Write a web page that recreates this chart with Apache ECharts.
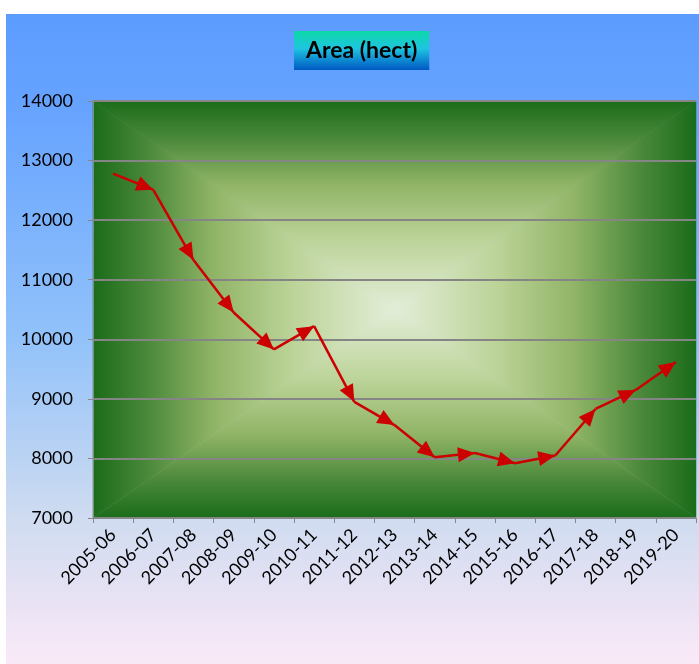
<!DOCTYPE html>
<html>
<head>
<meta charset="utf-8">
<script src="https://cdn.jsdelivr.net/npm/echarts@6/dist/echarts.min.js"></script>
<style>
    body { margin: 0; background: #ffffff; }
    #chart { position: absolute; left: 6px; top: 14px; width: 693px; height: 650px; }
</style>
</head>
<body>
<div id="chart"></div>
<script>
// data
var categories = ['2005-06', '2006-07', '2007-08', '2008-09', '2009-10', '2010-11', '2011-12', '2012-13',
    '2013-14', '2014-15', '2015-16', '2016-17', '2017-18', '2018-19', '2019-20'];
var areaValues = [12780, 12510, 11330, 10450, 9830, 10220, 8950, 8560, 8020, 8090, 7920, 8050, 8830, 9150, 9620];
var yTicks = { min: 7000, max: 14000, step: 1000 };

// layout of the plot area (px inside the chart div)
var W = 693, H = 650;
var gridLeft = 87, gridTop = 87, gridRight = 3, gridBottom = 146;

var chart = echarts.init(document.getElementById('chart'));

// each segment ends with an arrow head
var segments = [];
for (var i = 0; i < areaValues.length - 1; i++) {
    segments.push({ coords: [[i, areaValues[i]], [i + 1, areaValues[i + 1]]] });
}

// "from center" rectangular fill of the plot area, made of 4 triangles
var x0 = gridLeft, x1 = W - gridRight, y0 = gridTop, y1 = H - gridBottom;
var cx = (x0 + x1) / 2, cy = (y0 + y1) / 2;
var stops = [
    { offset: 0, color: '#1a6c1a' },
    { offset: 0.18, color: '#4a883a' },
    { offset: 0.4, color: '#90b466' },
    { offset: 0.65, color: '#bad296' },
    { offset: 1, color: '#e4eed8' }
];
function revStops() {
    return stops.map(function (s) { return { offset: 1 - s.offset, color: s.color }; }).reverse();
}
function tri(points, grad) {
    return { type: 'polygon', z: -10, silent: true, shape: { points: points }, style: { fill: grad, stroke: grad, lineWidth: 0.5 } };
}
var bgShapes = [
    tri([[x0, y0], [x1, y0], [cx, cy]], new echarts.graphic.LinearGradient(0, 0, 0, 1, stops)),
    tri([[x0, y1], [x1, y1], [cx, cy]], new echarts.graphic.LinearGradient(0, 0, 0, 1, revStops())),
    tri([[x0, y0], [x0, y1], [cx, cy]], new echarts.graphic.LinearGradient(0, 0, 1, 0, stops)),
    tri([[x1, y0], [x1, y1], [cx, cy]], new echarts.graphic.LinearGradient(0, 0, 1, 0, revStops()))
];

var option = {
    animation: false,
    backgroundColor: new echarts.graphic.LinearGradient(0, 0, 0, 1, [
        { offset: 0, color: '#5c9cfe' },
        { offset: 0.14, color: '#66a3ff' },
        { offset: 0.5, color: '#92c2fa' },
        { offset: 0.78, color: '#d0dcf0' },
        { offset: 0.9, color: '#e8e2f4' },
        { offset: 1, color: '#faeaf8' }
    ]),
    title: {
        text: 'Area (hect)',
        left: 288,
        top: 17,
        padding: [8, 12],
        backgroundColor: new echarts.graphic.LinearGradient(0, 0, 0, 1, [
            { offset: 0, color: '#0cd8a8' },
            { offset: 0.45, color: '#1ec4e0' },
            { offset: 1, color: '#0058c4' }
        ]),
        textStyle: { fontFamily: 'Lato', fontWeight: 'bold', fontSize: 23, color: '#000000' }
    },
    graphic: bgShapes,
    grid: { left: gridLeft, top: gridTop, right: gridRight, bottom: gridBottom },
    xAxis: {
        type: 'category',
        data: categories,
        boundaryGap: true,
        axisLine: { show: true, lineStyle: { color: '#888888', width: 1 } },
        axisTick: { show: true, length: 5, lineStyle: { color: '#888888' } },
        axisLabel: { rotate: 45, fontSize: 18, fontFamily: 'Lato', color: '#000000', margin: 14, interval: 0 },
        splitLine: { show: false }
    },
    yAxis: {
        type: 'value',
        min: yTicks.min,
        max: yTicks.max,
        interval: yTicks.step,
        axisLine: { show: true, lineStyle: { color: '#888888', width: 1 } },
        axisTick: { show: true, length: 5, lineStyle: { color: '#888888' } },
        axisLabel: { fontSize: 18, fontFamily: 'Lato', color: '#000000', margin: 20, formatter: function (v) { return String(v); } },
        splitLine: { show: true, lineStyle: { color: '#858585', width: 2 } }
    },
    series: [{
        type: 'lines',
        coordinateSystem: 'cartesian2d',
        polyline: false,
        symbol: ['none', 'path://M0,-16 L0,-16 M0,0 L7,16 L-7,16 Z'],
        symbolSize: [[15, 34], [15, 34]],
        lineStyle: { color: '#cc0000', width: 2.5, opacity: 1, curveness: 0 },
        data: segments
    }]
};

chart.setOption(option);
</script>
</body>
</html>
